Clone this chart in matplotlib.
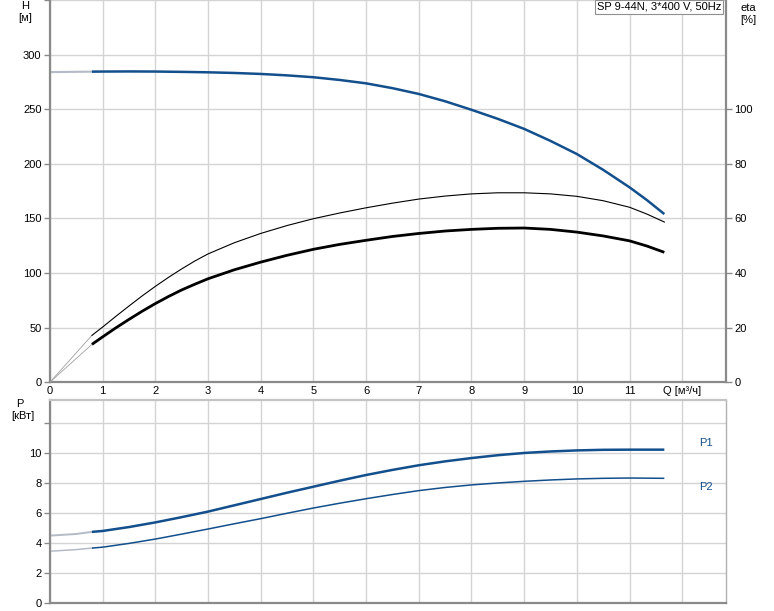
import matplotlib
matplotlib.use("Agg")
import matplotlib.pyplot as plt
import numpy as np

plt.rcParams['font.family'] = ['Liberation Sans', 'DejaVu Sans']

# ---------------- data ----------------
Q_H = [0, 0.8, 1, 1.5, 2, 2.5, 3, 3.5, 4, 4.5, 5, 5.5, 6, 6.5, 7, 7.5, 8, 8.5, 9, 9.5, 10, 10.5, 11, 11.33, 11.66]
H = [284, 284.4, 284.5, 284.6, 284.5, 284.2, 283.8, 283.2, 282.3, 281.0, 279.3, 276.8, 273.7, 269.3, 264.0, 257.3,
     249.5, 241.2, 232.0, 221.0, 209.0, 194.5, 178.5, 166.8, 154.0]

Q_eta = [0, 0.8, 1, 1.25, 1.5, 1.75, 2, 2.25, 2.5, 2.75, 3, 3.5, 4, 4.5, 5, 5.5, 6, 6.5, 7, 7.5, 8, 8.5, 9, 9.5,
         10, 10.5, 11, 11.33, 11.66]
eta_pump = [0, 17.2, 20.2, 24.1, 27.9, 31.6, 35.1, 38.4, 41.5, 44.4, 47.0, 51.1, 54.5, 57.4, 59.9, 62.0, 63.9, 65.6,
            67.1, 68.2, 69.0, 69.4, 69.4, 69.0, 68.1, 66.5, 64.1, 61.6, 58.7]
eta_total = [0, 13.9, 16.6, 19.9, 23.0, 26.0, 28.8, 31.4, 33.8, 35.9, 37.9, 41.2, 44.0, 46.5, 48.7, 50.5, 52.0, 53.4,
             54.5, 55.4, 56.0, 56.4, 56.5, 56.0, 55.0, 53.6, 51.8, 49.9, 47.6]

Q_P = [0, 0.5, 0.8, 1, 1.5, 2, 2.5, 3, 3.5, 4, 4.5, 5, 5.5, 6, 6.5, 7, 7.5, 8, 8.5, 9, 9.5, 10, 10.5, 11, 11.66]
P1 = [4.51, 4.62, 4.76, 4.82, 5.08, 5.39, 5.74, 6.11, 6.53, 6.95, 7.37, 7.77, 8.17, 8.55, 8.89, 9.20, 9.46, 9.68,
      9.87, 10.02, 10.12, 10.19, 10.23, 10.24, 10.24]
P2 = [3.47, 3.58, 3.68, 3.74, 3.99, 4.28, 4.61, 4.95, 5.30, 5.64, 6.00, 6.35, 6.67, 6.97, 7.25, 7.51, 7.72, 7.89,
      8.02, 8.13, 8.22, 8.29, 8.33, 8.35, 8.33]

x_ticks = list(range(0, 12))
H_ticks = [0, 50, 100, 150, 200, 250, 300]
eta_ticks = [0, 20, 40, 60, 80, 100]
P_ticks = [0, 2, 4, 6, 8, 10, 12]
P_tick_labels = ['0', '2', '4', '6', '8', '10', '']
title_text = "SP 9-44N, 3*400 V, 50Hz"

# ---------------- layout ----------------
W, Hpx = 774, 611
fig = plt.figure(figsize=(W / 100, Hpx / 100), dpi=100)

def frac(x0, y0, x1, y1):
    return [x0 / W, 1 - y1 / Hpx, (x1 - x0) / W, (y1 - y0) / Hpx]

blue = '#134f8c'
grid_c = '#d4d4d4'
spine_c = '#8a8a8a'
light = '#b4bac6'
FS = 8

XMAX = 12.83
ax = fig.add_axes(frac(49.8, 0, 726, 382.3))
ax2 = ax.twinx()
axp = fig.add_axes(frac(49.8, 400, 726, 603.3))

# top axes
ax.set_xlim(0, XMAX)
ax.set_ylim(0, 350)
ax2.set_ylim(0, 140)
ax.set_xticks(list(range(0, 13)))
ax.set_xticklabels([str(v) for v in x_ticks] + ['Q [м³/ч]'])
ax.set_yticks(H_ticks + [350])
ax.set_yticklabels([str(v) for v in H_ticks] + [''])
ax2.set_yticks(eta_ticks)
ax2.set_yticklabels([str(v) for v in eta_ticks])
ax.grid(True, color=grid_c, linewidth=1.0)
ax.set_axisbelow(True)

for a in (ax, ax2):
    for s in a.spines.values():
        s.set_visible(False)
ax.spines['left'].set_visible(True)
ax.spines['bottom'].set_visible(True)
ax2.spines['right'].set_visible(True)
for s in ('left', 'bottom'):
    ax.spines[s].set_color(spine_c)
    ax.spines[s].set_linewidth(1.6)
ax2.spines['right'].set_color(spine_c)
ax2.spines['right'].set_linewidth(1.6)

ax.tick_params(axis='y', direction='out', length=4, width=1, color=spine_c, labelsize=FS, pad=2)
ax.tick_params(axis='x', length=0, labelsize=FS, pad=3)
ax2.tick_params(axis='y', direction='out', length=4, width=1, color=spine_c, labelsize=FS, pad=2)

def split(q, v, cut=0.8):
    q = np.asarray(q); v = np.asarray(v)
    i = int(np.searchsorted(q, cut)) + 1
    return (q[:i], v[:i]), (q[i - 1:], v[i - 1:])

(a0, b0), (a1, b1) = split(Q_H, H)
ax.plot(a0, b0, color=light, lw=1.5)
ax.plot(a1, b1, color=blue, lw=1.8, solid_capstyle='butt', solid_joinstyle='round')

(a0, b0), (a1, b1) = split(Q_eta, eta_pump)
ax2.plot(a0, b0, color='#a0a0a0', lw=0.6)
ax2.plot(a1, b1, color='black', lw=0.8, solid_joinstyle='round')
(a0, b0), (a1, b1) = split(Q_eta, eta_total)
ax2.plot(a0, b0, color='#a0a0a0', lw=0.6)
ax2.plot(a1, b1, color='black', lw=2.0, solid_capstyle='butt', solid_joinstyle='round')

# bottom axes
axp.set_xlim(0, XMAX)
axp.set_ylim(0, 13.55)
axp.set_xticks(list(range(0, 13)))
axp.set_xticklabels([])
axp.set_yticks(P_ticks)
axp.set_yticklabels(P_tick_labels)
axp.grid(True, color=grid_c, linewidth=1.0)
axp.set_axisbelow(True)
axp.tick_params(axis='x', length=0)
axp.tick_params(axis='y', direction='out', length=4, width=1, color=spine_c, labelsize=FS, pad=2)
for s in ('left', 'bottom'):
    axp.spines[s].set_color(spine_c)
    axp.spines[s].set_linewidth(1.6)
axp.spines['top'].set_color('#c4c4c4')
axp.spines['top'].set_linewidth(1.6)
axp.spines['right'].set_color('#b0b0b0')
axp.spines['right'].set_linewidth(1.0)

(a0, b0), (a1, b1) = split(Q_P, P1)
axp.plot(a0, b0, color=light, lw=1.4)
axp.plot(a1, b1, color=blue, lw=1.8, solid_capstyle='butt', solid_joinstyle='round')
(a0, b0), (a1, b1) = split(Q_P, P2)
axp.plot(a0, b0, color=light, lw=1.1)
axp.plot(a1, b1, color=blue, lw=1.1, solid_capstyle='butt', solid_joinstyle='round')

axp.text(12.45, 10.7, 'P1', color=blue, fontsize=FS, ha='center', va='center')
axp.text(12.45, 7.75, 'P2', color=blue, fontsize=FS, ha='center', va='center')

# axis titles
fig.text(25 / W, 1 - 6 / Hpx, 'H', fontsize=FS, ha='center', va='center')
fig.text(25 / W, 1 - 18 / Hpx, '[м]', fontsize=FS, ha='center', va='center')
fig.text(748 / W, 1 - 8 / Hpx, 'eta', fontsize=FS, ha='center', va='center')
fig.text(748 / W, 1 - 20 / Hpx, '[%]', fontsize=FS, ha='center', va='center')
fig.text(20 / W, 1 - 404 / Hpx, 'P', fontsize=FS, ha='center', va='center')
fig.text(23 / W, 1 - 416 / Hpx, '[кВт]', fontsize=FS, ha='center', va='center')

# header box
ax.text(0.993, 0.995, title_text, transform=ax.transAxes, ha='right', va='top', fontsize=FS,
        bbox=dict(boxstyle='square,pad=0.2', fc='white', ec='#909090', lw=0.8), zorder=5)

fig.savefig('out.png', dpi=100)
